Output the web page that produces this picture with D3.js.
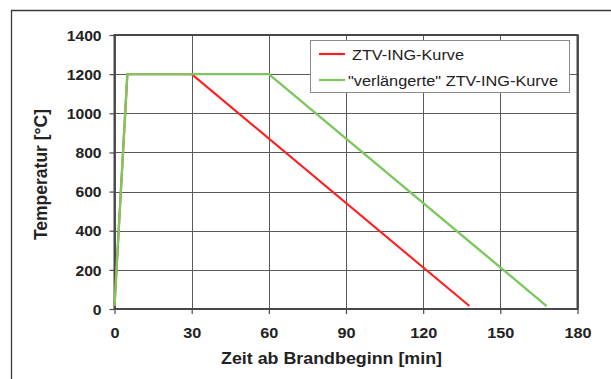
<!DOCTYPE html>
<html>
<head>
<meta charset="utf-8">
<script src="https://cdn.jsdelivr.net/npm/d3@7"></script>
<style>
  html, body { margin: 0; padding: 0; background: #fff; }
  svg { display: block; font-family: "Liberation Sans", Arial, sans-serif; }
</style>
</head>
<body>
<svg id="chart" width="611" height="379"></svg>
<script>
// Temperature-time curves (minutes since fire start, °C)
const redTime   = [0, 5, 30, 138];
const redTemp   = [15, 1200, 1200, 15];
const greenTime = [0, 5, 60, 168];
const greenTemp = [15, 1200, 1200, 15];

const xTicks = [0, 30, 60, 90, 120, 150, 180];
const yTicks = [0, 200, 400, 600, 800, 1000, 1200, 1400];

const seriesNames  = ["ZTV-ING-Kurve", "\"verlängerte\" ZTV-ING-Kurve"];
const seriesColors = ["#ff1f1f", "#7cc85e"];

const xTitle = "Zeit ab Brandbeginn [min]";
const yTitle = "Temperatur [°C]";

const svg = d3.select("#chart");
const plot = { left: 114.5, right: 577.5, top: 35, bottom: 309 };
const textScale = 1.12;

const x = d3.scaleLinear().domain([0, 180]).range([plot.left, plot.right]);
const y = d3.scaleLinear().domain([0, 1400]).range([plot.bottom, plot.top]);

// outer frame (left and top edges only)
svg.append("path")
  .attr("d", "M11.5,379 V10.5 H611")
  .attr("fill", "none").attr("stroke", "#3a3a3a").attr("stroke-width", 1.3);

// gridlines
const grid = svg.append("g").attr("shape-rendering", "crispEdges");
grid.selectAll(".hg").data(yTicks).join("line")
  .attr("x1", plot.left).attr("x2", plot.right)
  .attr("y1", d => Math.round(y(d)) + 0.5).attr("y2", d => Math.round(y(d)) + 0.5)
  .attr("stroke", "#5a5a5a").attr("stroke-width", 1);
grid.selectAll(".vg").data(xTicks).join("line")
  .attr("y1", plot.top).attr("y2", plot.bottom)
  .attr("x1", d => Math.round(x(d)) + 0.5).attr("x2", d => Math.round(x(d)) + 0.5)
  .attr("stroke", "#5a5a5a").attr("stroke-width", 1);

// axes
const yAxis = svg.append("g")
  .attr("transform", `translate(${plot.left},0)`)
  .call(d3.axisLeft(y).tickValues(yTicks).tickSize(5).tickPadding(7).tickFormat(d3.format("d")));
const xAxis = svg.append("g")
  .attr("transform", `translate(0,${plot.bottom})`)
  .call(d3.axisBottom(x).tickValues(xTicks).tickSize(5).tickFormat(d3.format("d")));

[yAxis, xAxis].forEach(g => {
  g.select(".domain").remove();
  g.selectAll(".tick line").attr("stroke", "#4a4a4a").attr("stroke-width", 1.2);
  g.selectAll(".tick text")
    .attr("fill", "#222")
    .attr("font-family", "Liberation Sans, Arial, sans-serif")
    .attr("font-size", 14.5).attr("font-weight", "bold");
});
yAxis.selectAll(".tick text").attr("transform", `scale(1.08,1)`).attr("dy", "0.36em");
xAxis.selectAll(".tick text").attr("y", 29).attr("dy", 0).attr("transform", `scale(${textScale},1)`);

// plot border
svg.append("rect")
  .attr("x", plot.left).attr("y", plot.top)
  .attr("width", plot.right - plot.left).attr("height", plot.bottom - plot.top)
  .attr("fill", "none").attr("stroke", "#484848").attr("stroke-width", 2);

// curves
const line = d3.line().x(d => x(d[0])).y(d => y(d[1]));
const series = [
  d3.zip(redTime, redTemp),
  d3.zip(greenTime, greenTemp)
];
series.forEach((pts, i) => {
  svg.append("path").datum(pts)
    .attr("d", line)
    .attr("fill", "none")
    .attr("stroke", seriesColors[i])
    .attr("stroke-width", i === 0 ? 2.1 : 2.4)
    .attr("stroke-linejoin", "round");
});

// axis titles
svg.append("text")
  .attr("x", 221).attr("y", 364)
  .attr("font-size", 16).attr("font-weight", "bold").attr("fill", "#222")
  .attr("textLength", 221).attr("lengthAdjust", "spacingAndGlyphs")
  .text(xTitle);
svg.append("text")
  .attr("transform", "translate(47,174.5) rotate(-90)")
  .attr("text-anchor", "middle")
  .attr("font-size", 17.5).attr("font-weight", "bold").attr("fill", "#222")
  .text(yTitle);

// legend
const legend = svg.append("g");
legend.append("rect")
  .attr("x", 310.5).attr("y", 40.5).attr("width", 259).attr("height", 52)
  .attr("fill", "#fff").attr("stroke", "#8a8a8a").attr("stroke-width", 1);
const legendY = [54, 80];
const legendW = [112, 210];
seriesNames.forEach((name, i) => {
  legend.append("line")
    .attr("x1", 319).attr("x2", 345)
    .attr("y1", legendY[i]).attr("y2", legendY[i])
    .attr("stroke", seriesColors[i]).attr("stroke-width", 2.2);
  legend.append("text")
    .attr("x", i === 0 ? 352 : 348).attr("y", legendY[i] + 5.5)
    .attr("font-size", 15.5).attr("fill", "#222")
    .attr("textLength", legendW[i]).attr("lengthAdjust", "spacingAndGlyphs")
    .text(name);
});
</script>
</body>
</html>
